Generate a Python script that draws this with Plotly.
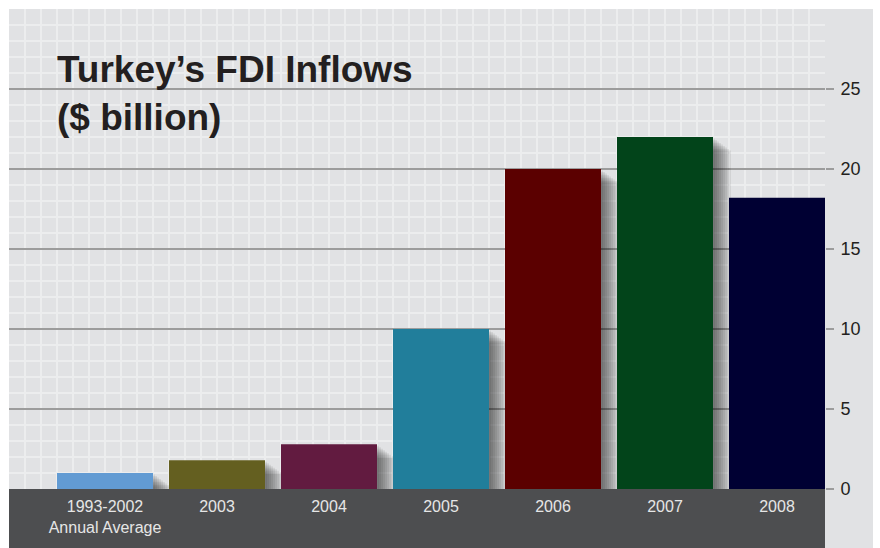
import plotly.graph_objects as go

categories = ["1993-2002<br>Annual Average", "2003", "2004", "2005", "2006", "2007", "2008"]
values = [1.0, 1.8, 2.8, 10.0, 20.0, 22.0, 18.2]
colors = ["#629BD3", "#645F20", "#621B40", "#217E9B", "#5B0000", "#02441A", "#000033"]
y_ticks = [0, 5, 10, 15, 20, 25]

pos = list(range(len(categories)))
BW = 96 / 112
FONT = "Liberation Sans, Arial, sans-serif"

fig = go.Figure()

# soft drop shadows (stacked translucent layers)
n_layers = 9
for i in range(1, n_layers + 1):
    shift = 2 * i
    drop = 1.5 * i
    fig.add_trace(go.Bar(
        x=pos, y=[max(v - drop / 16, 0) for v in values],
        width=BW, offset=-BW / 2 + shift / 112,
        marker=dict(color="rgba(0,0,0,0.07)", line=dict(width=0)),
        cliponaxis=False, hoverinfo="skip", showlegend=False,
    ))

fig.add_trace(go.Bar(
    x=pos, y=values, width=BW, offset=-BW / 2,
    marker=dict(color=colors, line=dict(width=0)),
    showlegend=False,
))

fig.update_layout(
    width=880, height=548,
    margin=dict(l=9, r=55, t=9, b=59),
    paper_bgcolor="white", plot_bgcolor="#E1E2E4",
    barmode="overlay",
    xaxis=dict(
        range=[-6 / 7, 45 / 7], tickmode="array", tickvals=pos, ticktext=categories,
        showgrid=False, zeroline=False, ticks="", ticklabelstandoff=6,
        tickfont=dict(family=FONT, size=16, color="#E6E6E6"),
        minor=dict(tickmode="linear", tick0=0, dtick=1 / 7, showgrid=True,
                   gridcolor="#ECEDEE", gridwidth=1.5),
        fixedrange=True,
    ),
    yaxis=dict(
        side="right", range=[0, 30], tickmode="array", tickvals=y_ticks,
        showgrid=True, gridcolor="#9C9C9C", gridwidth=2, zeroline=False,
        ticks="outside", ticklen=8, tickwidth=2, tickcolor="#9C9C9C",
        ticklabelstandoff=3,
        tickfont=dict(family=FONT, size=18, color="#231F20"),
        minor=dict(tickmode="linear", tick0=0, dtick=1, showgrid=True,
                   gridcolor="#ECEDEE", gridwidth=1.5),
        fixedrange=True,
    ),
    shapes=[
        dict(type="rect", xref="paper", yref="paper", x0=0, x1=864 / 816, y0=-0.2, y1=1,
             fillcolor="#E1E2E4", line_width=0, layer="below"),
        dict(type="rect", xref="paper", yref="paper", x0=0, x1=1, y0=-0.2, y1=0,
             fillcolor="#4D4E50", line_width=0, layer="below"),
    ],
    annotations=[dict(
        text="Turkey’s FDI Inflows<br>($ billion)",
        xref="paper", yref="paper", x=46 / 816, y=1 - (46.5 - 9) / 480,
        xanchor="left", yanchor="top", align="left", showarrow=False,
        font=dict(family=FONT, size=37, color="#231F20", weight=700),
    )],
)

fig.write_html("out.html")
